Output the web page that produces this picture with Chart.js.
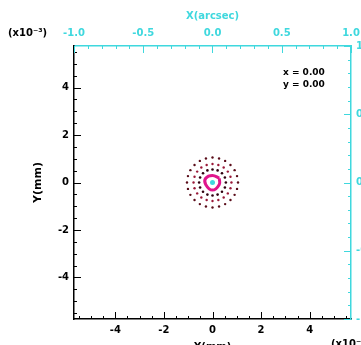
<!DOCTYPE html>
<html>
<head>
<meta charset="utf-8">
<script src="https://cdn.jsdelivr.net/npm/chart.js@4.4.0/dist/chart.umd.min.js"></script>
<style>
  html, body { margin: 0; padding: 0; background: #fff; }
  #wrap { width: 361px; height: 345px; }
</style>
</head>
<body>
<div id="wrap"><canvas id="spot"></canvas></div>
<script>
// tick labels: focal plane in mm (x10^-3), sky in arcsec
const xMmTicks = [-4, -2, 0, 2, 4];
const yMmTicks = [-4, -2, 0, 2, 4];
const xArcTicks = [-1.0, -0.5, 0.0, 0.5, 1.0];
const yArcTicks = [-1.0, -0.5, 0.0, 0.5, 1.0];

// spot positions (x10^-3 mm)
const outerRing = [
  [1.05, 0.00], [1.01, 0.27], [0.91, 0.52], [0.74, 0.74], [0.52, 0.91], [0.27, 1.01],
  [0.00, 1.05], [-0.27, 1.01], [-0.52, 0.91], [-0.74, 0.74], [-0.91, 0.52], [-1.01, 0.27],
  [-1.05, 0.00], [-1.01, -0.27], [-0.91, -0.52], [-0.74, -0.74], [-0.52, -0.91], [-0.27, -1.01],
  [0.00, -1.05], [0.27, -1.01], [0.52, -0.91], [0.74, -0.74], [0.91, -0.52], [1.01, -0.27]
];
const middleRing = [
  [0.78, 0.00], [0.74, 0.24], [0.63, 0.46], [0.46, 0.63], [0.24, 0.74], [0.00, 0.78],
  [-0.24, 0.74], [-0.46, 0.63], [-0.63, 0.46], [-0.74, 0.24], [-0.78, 0.00], [-0.74, -0.24],
  [-0.63, -0.46], [-0.46, -0.63], [-0.24, -0.74], [0.00, -0.78], [0.24, -0.74], [0.46, -0.63],
  [0.63, -0.46], [0.74, -0.24]
];
const innerRing = [
  [0.55, 0.00], [0.51, 0.21], [0.39, 0.39], [0.21, 0.51], [0.00, 0.55], [-0.21, 0.51],
  [-0.39, 0.39], [-0.51, 0.21], [-0.55, 0.00], [-0.51, -0.21], [-0.39, -0.39], [-0.21, -0.51],
  [0.00, -0.55], [0.21, -0.51], [0.39, -0.39], [0.51, -0.21]
];
const coreSpot = [
  [0.28, 0.18], [0.00, 0.30], [-0.28, 0.18], [-0.28, -0.08], [0.00, -0.32], [0.28, -0.08],
  [0.28, 0.18]
];
const chiefRay = [[0.00, 0.00]];

const CYAN = "#3fd8de";
const tickFont = { family: "DejaVu Sans", size: 10, weight: "bold" };
const toXY = (pts) => pts.map((p) => ({ x: p[0], y: p[1] }));
const fixTicks = (vals) => (scale) => {
  scale.ticks = vals.map((v) => ({ value: v }));
};
const noPad = (s) => {
  s.paddingLeft = 0;
  s.paddingRight = 0;
  s.paddingTop = 0;
  s.paddingBottom = 0;
};

const inwardTicks = {
  id: "inwardTicks",
  afterDraw(chart) {
    const { ctx, chartArea: a, scales } = chart;
    ctx.save();
    ctx.lineWidth = 1;
    function draw(scale, step, major, color, side) {
      ctx.strokeStyle = color;
      ctx.beginPath();
      for (let v = Math.ceil(scale.min / step) * step; v <= scale.max + 1e-9; v += step) {
        const isMajor = Math.abs(v / major - Math.round(v / major)) < 1e-6;
        const len = isMajor ? 7 : 3;
        const p = Math.round(scale.getPixelForValue(v)) + 0.5;
        if (side === "bottom") { ctx.moveTo(p, a.bottom); ctx.lineTo(p, a.bottom - len); }
        if (side === "top") { ctx.moveTo(p, a.top); ctx.lineTo(p, a.top + len); }
        if (side === "left") { ctx.moveTo(a.left, p); ctx.lineTo(a.left + len, p); }
        if (side === "right") { ctx.moveTo(a.right, p); ctx.lineTo(a.right - len, p); }
      }
      ctx.stroke();
    }
    draw(scales.x, 0.5, 2, "#000", "bottom");
    draw(scales.y, 0.5, 2, "#000", "left");
    draw(scales.x2, 0.1, 0.5, CYAN, "top");
    draw(scales.y2, 0.1, 0.5, CYAN, "right");

    ctx.fillStyle = "#000";
    ctx.font = "bold 10px 'DejaVu Sans'";
    ctx.textBaseline = "middle";
    ctx.textAlign = "left";
    ctx.fillText("(x10\u207B\u00B3)", 8, 33);
    ctx.fillText("(x10\u207B\u00B3", 331, 344);
    ctx.font = "bold 9px 'DejaVu Sans'";
    ctx.fillText("x = 0.00", 283, 73);
    ctx.fillText("y = 0.00", 283, 85);
    ctx.restore();
  },
};

const ctx = document.getElementById("spot").getContext("2d");
new Chart(ctx, {
  type: "scatter",
  data: {
    datasets: [
      {
        data: toXY(outerRing),
        pointRadius: 1.2,
        pointBackgroundColor: "#5a0d1a",
        pointBorderWidth: 0,
      },
      {
        data: toXY(middleRing),
        pointRadius: 1.2,
        pointBackgroundColor: "#9a1838",
        pointBorderWidth: 0,
      },
      {
        data: toXY(innerRing),
        pointRadius: 1.3,
        pointBackgroundColor: "#300010",
        pointBorderWidth: 0,
      },
      {
        data: toXY(coreSpot),
        showLine: true,
        borderColor: "#e0168c",
        borderWidth: 3,
        pointRadius: 0,
        tension: 0.4,
      },
      {
        data: toXY(chiefRay),
        pointRadius: 2.5,
        pointBackgroundColor: CYAN,
        pointBorderWidth: 0,
      },
    ],
  },
  options: {
    responsive: true,
    maintainAspectRatio: false,
    animation: false,
    layout: { padding: 0 },
    plugins: { legend: { display: false }, tooltip: { enabled: false } },
    scales: {
      x: {
        type: "linear",
        position: "bottom",
        min: -5.7,
        max: 5.7,
        afterBuildTicks: fixTicks(xMmTicks),
        afterFit: (s) => { s.height = 26; noPad(s); },
        grid: { display: false, drawTicks: false },
        border: { color: "#000", width: 1.5 },
        ticks: { color: "#000", font: tickFont, padding: 5, maxRotation: 0 },
        title: {
          display: true,
          text: "X(mm)",
          color: "#000",
          font: tickFont,
          padding: { top: 0, bottom: -8 },
        },
      },
      x2: {
        type: "linear",
        position: "top",
        min: -1.0,
        max: 1.0,
        afterBuildTicks: fixTicks(xArcTicks),
        afterFit: (s) => { s.height = 46; noPad(s); },
        grid: { display: false, drawTicks: false },
        border: { color: CYAN, width: 1.5 },
        ticks: {
          color: CYAN,
          font: tickFont,
          padding: 7,
          maxRotation: 0,
          callback: (v) => v.toFixed(1),
        },
        title: {
          display: true,
          text: "X(arcsec)",
          color: CYAN,
          font: tickFont,
          padding: { top: 10, bottom: 0 },
        },
      },
      y: {
        type: "linear",
        position: "left",
        min: -5.75,
        max: 5.75,
        afterBuildTicks: fixTicks(yMmTicks),
        afterFit: (s) => { s.width = 74; noPad(s); },
        grid: { display: false, drawTicks: false },
        border: { color: "#000", width: 1.5 },
        ticks: { color: "#000", font: tickFont, padding: 5 },
        title: {
          display: true,
          text: "Y(mm)",
          color: "#000",
          font: { family: "DejaVu Sans", size: 11, weight: "bold" },
          padding: { top: 32, bottom: 0 },
        },
      },
      y2: {
        type: "linear",
        position: "right",
        min: -1.0,
        max: 1.0,
        afterBuildTicks: fixTicks(yArcTicks),
        afterFit: (s) => { s.width = 10; noPad(s); },
        grid: { display: false, drawTicks: false },
        border: { color: CYAN, width: 1.5 },
        ticks: {
          color: CYAN,
          font: tickFont,
          padding: 5,
          callback: (v) => v.toFixed(1),
        },
      },
    },
  },
  plugins: [inwardTicks],
});
</script>
</body>
</html>
